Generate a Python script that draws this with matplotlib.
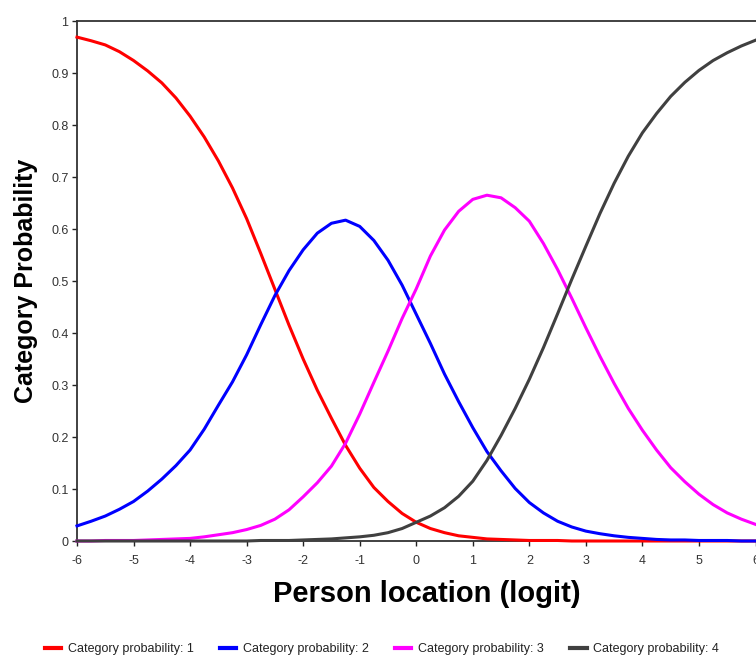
import matplotlib
matplotlib.use("Agg")
import matplotlib.pyplot as plt
from matplotlib.ticker import FuncFormatter

plt.rcParams["font.family"] = ["Liberation Sans", "DejaVu Sans"]

# Person location grid (logits)
location = [-6.0 + 0.25 * i for i in range(49)]

# Category probability curves
cat1 = [0.969, 0.962, 0.954, 0.941, 0.924, 0.904, 0.881, 0.852, 0.817, 0.777,
        0.731, 0.679, 0.620, 0.553, 0.484, 0.415, 0.350, 0.290, 0.236, 0.184,
        0.140, 0.103, 0.076, 0.053, 0.036, 0.024, 0.016, 0.010, 0.007, 0.004,
        0.003, 0.002, 0.001, 0.001, 0.001, 0.000, 0.000, 0.000, 0.000, 0.000,
        0.000, 0.000, 0.000, 0.000, 0.000, 0.000, 0.000, 0.000, 0.000]
cat2 = [0.029, 0.038, 0.048, 0.061, 0.076, 0.096, 0.119, 0.145, 0.175, 0.215,
        0.261, 0.306, 0.358, 0.416, 0.472, 0.520, 0.560, 0.592, 0.611, 0.617,
        0.605, 0.578, 0.540, 0.492, 0.436, 0.380, 0.321, 0.268, 0.218, 0.172,
        0.135, 0.101, 0.074, 0.054, 0.038, 0.027, 0.019, 0.014, 0.010, 0.007,
        0.005, 0.003, 0.002, 0.002, 0.001, 0.001, 0.001, 0.000, 0.000]
cat3 = [0.000, 0.000, 0.001, 0.001, 0.001, 0.002, 0.003, 0.004, 0.005, 0.008,
        0.012, 0.016, 0.022, 0.030, 0.042, 0.060, 0.085, 0.112, 0.144, 0.188,
        0.244, 0.305, 0.365, 0.428, 0.485, 0.548, 0.598, 0.634, 0.657, 0.665,
        0.660, 0.641, 0.615, 0.572, 0.522, 0.467, 0.410, 0.355, 0.303, 0.255,
        0.213, 0.175, 0.141, 0.114, 0.090, 0.070, 0.054, 0.042, 0.032]
cat4 = [0.000, 0.000, 0.000, 0.000, 0.000, 0.000, 0.000, 0.000, 0.000, 0.000,
        0.000, 0.000, 0.000, 0.001, 0.001, 0.001, 0.002, 0.003, 0.004, 0.006,
        0.008, 0.011, 0.016, 0.024, 0.036, 0.048, 0.064, 0.086, 0.115, 0.155,
        0.203, 0.255, 0.311, 0.372, 0.437, 0.503, 0.567, 0.630, 0.688, 0.740,
        0.785, 0.822, 0.855, 0.882, 0.905, 0.924, 0.939, 0.952, 0.963]

series = [cat1, cat2, cat3, cat4]
labels = ["Category probability: 1", "Category probability: 2",
          "Category probability: 3", "Category probability: 4"]
colors = ["#ff0000", "#0000ff", "#ff00ff", "#404040"]

x_ticks = list(range(-6, 7))
y_ticks = [i / 10 for i in range(11)]

fig = plt.figure(figsize=(7.56, 6.56), dpi=100)
ax = fig.add_axes([77 / 756, 1 - 541 / 656, 678.5 / 756, 520 / 656])

handles = []
for vals, lab, col in zip(series, labels, colors):
    h, = ax.plot(location, vals, color=col, lw=2.2, label=lab,
                 solid_joinstyle="round", clip_on=False, zorder=3)
    handles.append(h)

ax.set_xlim(-6, 6)
ax.set_ylim(0, 1)
ax.set_xticks(x_ticks)
ax.set_yticks(y_ticks)
ax.yaxis.set_major_formatter(FuncFormatter(lambda v, p: f"{v:g}"))
ax.xaxis.set_major_formatter(FuncFormatter(lambda v, p: f"{v:g}"))
ax.tick_params(axis="both", direction="out", length=3.6, width=1.0,
               color="#222222", labelsize=9, labelcolor="#333333")
ax.tick_params(axis="y", pad=2.5)
ax.tick_params(axis="x", pad=6.5)

for side in ["left", "top", "bottom"]:
    ax.spines[side].set_color("#333333")
    ax.spines[side].set_linewidth(1.3)
ax.spines["right"].set_visible(False)

ax.set_xlabel("Person location (logit)", fontsize=21, fontweight="bold",
              color="#000000")
ax.xaxis.set_label_coords(0.516, -0.075)
ax.set_ylabel("Category Probability", fontsize=18, fontweight="bold",
              color="#000000")
ax.yaxis.set_label_coords(-0.0575, 0.5)

fig.legend(handles=handles, labels=labels, loc="center",
           bbox_to_anchor=(382 / 756, 1 - 649 / 656), ncol=4, frameon=False,
           fontsize=9, handlelength=1.3, handletextpad=0.55,
           columnspacing=2.1, labelcolor="#222222")
for line in fig.legends[0].get_lines():
    line.set_linewidth(3.0)

fig.savefig("out.png", dpi=100)
